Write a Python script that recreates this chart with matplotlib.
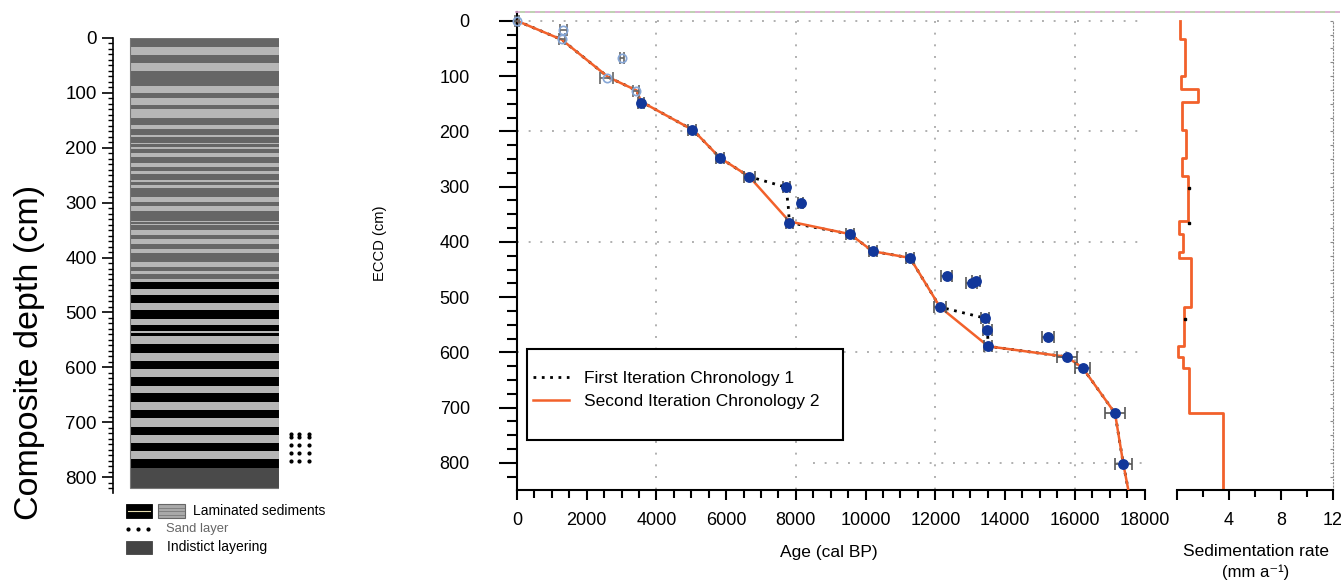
import numpy as np
import matplotlib
matplotlib.use('Agg')
import matplotlib.pyplot as plt
from matplotlib.patches import Rectangle
from matplotlib.lines import Line2D
from matplotlib.ticker import MultipleLocator, FixedLocator

plt.rcParams['font.family'] = ['Liberation Sans', 'DejaVu Sans']

# ---------------- data ----------------
# lithology (cm)
lam_upper_top, lam_upper_bottom = 0, 445          # dark-grey laminated
lam_lower_top, lam_lower_bottom = 445, 783        # black laminated
indist_top, indist_bottom = 783, 819              # indistinct layering
light_band_top = [16, 46, 87, 110, 130, 158, 177, 191, 198, 210, 228, 243, 259, 268,
                  289, 307, 333, 339, 350, 367, 385, 409, 424, 439,
                  458, 483, 512, 533, 543, 574, 603, 634, 664, 693, 723, 752]
light_band_bottom = [31, 61, 100, 122, 146, 166, 181, 193, 202, 216, 235, 248, 262, 274,
                     298, 316, 336, 341, 359, 375, 392, 417, 430, 444,
                     468, 495, 523, 537, 557, 588, 617, 647, 678, 708, 737, 767]
sand_depths = [721, 727, 742, 757, 770]

# dated samples: age (cal BP), depth (cm), age error
filled_age = [3557, 5020, 5823, 6664, 7717, 8138, 7812, 9552, 10203, 11274, 12326, 13043,
              13167, 12134, 13425, 13492, 13520, 15242, 15768, 16227, 17154, 17393]
filled_depth = [148, 198, 248, 282, 301, 329, 365, 386, 417, 429, 461, 475,
                470, 518, 538, 560, 589, 573, 608, 628, 710, 802]
filled_err = [100, 120, 110, 150, 100, 80, 110, 110, 110, 110, 150, 150,
              110, 170, 110, 120, 110, 170, 290, 215, 300, 250]
open_age = [0, 1330, 1300, 3003, 2573, 3414]
open_depth = [0, 17, 32, 67, 103, 127]
open_err = [60, 90, 90, 60, 180, 80]

# chronologies
chron2_age = [0, 1282, 2620, 3433, 3557, 5058, 5823, 6664, 7812, 9552, 10203, 11274,
              12134, 13520, 15768, 16227, 17154, 17393, 17536]
chron2_depth = [0, 34, 102, 126, 146, 198, 248, 282, 363, 386, 417, 429,
                518, 589, 608, 628, 710, 802, 849]
chron1_age = [0, 1282, 2620, 3433, 3557, 5058, 5823, 6664, 7717, 7780, 7812, 9552, 10203,
              11274, 12134, 13425, 13492, 13520, 15768, 16227, 17154, 17393, 17536]
chron1_depth = [0, 34, 102, 126, 146, 198, 248, 282, 301, 335, 365, 386, 417,
                429, 518, 538, 560, 589, 608, 628, 710, 802, 849]

# sedimentation rate (mm/a) between depth edges (cm)
sed_edges = [0, 33, 100, 124, 146, 197, 248, 281, 363, 386, 418, 429, 518, 589, 608, 628, 710, 850]
sed_rate = [0.25, 0.6, 0.28, 1.65, 0.35, 0.72, 0.38, 0.88, 0.12, 0.45, 0.12, 1.1,
            0.55, 0.1, 0.45, 0.95, 3.5]
sed1_rate = [0.9, 0.9, 0.58]
sed1_depth = [303, 365, 540]

# ---------------- figure ----------------
W, H = 1341, 580
fig = plt.figure(figsize=(W / 100, H / 100), dpi=100)


def fx(x):
    return x / W


def fy(y):
    return 1 - y / H


def axes_px(l, t, r, b):
    return fig.add_axes([fx(l), fy(b), (r - l) / W, (b - t) / H])


# ---------- lithology column ----------
ax0 = axes_px(112.7, 38, 279, 493)
ax0.set_xlim(0, 1)
ax0.set_ylim(829, 0)
cx0 = 0.104
ax0.add_patch(Rectangle((cx0, lam_upper_top), 1 - cx0, lam_upper_bottom - lam_upper_top,
                        facecolor='#666666', edgecolor='none'))
ax0.add_patch(Rectangle((cx0, lam_lower_top), 1 - cx0, lam_lower_bottom - lam_lower_top,
                        facecolor='#000000', edgecolor='none'))
ax0.add_patch(Rectangle((cx0, indist_top), 1 - cx0, indist_bottom - indist_top,
                        facecolor='#4a4a4a', edgecolor='none'))
for t, b in zip(light_band_top, light_band_bottom):
    ax0.add_patch(Rectangle((cx0, t), 1 - cx0, b - t, facecolor='#b6b6b6', edgecolor='none'))
ax0.add_patch(Rectangle((cx0, 0), 1 - cx0, indist_bottom, facecolor='none',
                        edgecolor='#777777', lw=0.8))
for d in sand_depths:
    ax0.plot([1.07, 1.12, 1.178], [d, d, d], 'o', color='black', ms=2.0, clip_on=False)
for s in ['top', 'right', 'bottom']:
    ax0.spines[s].set_visible(False)
ax0.spines['left'].set_linewidth(1.2)
ax0.set_xticks([])
ax0.yaxis.set_minor_locator(MultipleLocator(10))
ax0.set_yticks(range(0, 801, 100))
ax0.tick_params(axis='y', which='major', length=8, width=1.2, pad=3.5, labelsize=13.5)
ax0.tick_params(axis='y', which='minor', length=3.5, width=1.0)

fig.text(fx(30), fy(352), 'Composite depth (cm)', rotation=90, ha='center', va='center',
         fontsize=24.5)

# lithology legend
fig.add_artist(Rectangle((fx(126), fy(517.7)), 25.7 / W, 13.4 / H, transform=fig.transFigure,
                         facecolor='black', edgecolor='black', lw=0.6))
fig.add_artist(Line2D([fx(128), fx(150)], [fy(511), fy(511)], transform=fig.transFigure,
                      color='#e6dcae', lw=0.8))
fig.add_artist(Rectangle((fx(158.3), fy(517.7)), 26.7 / W, 13.4 / H, transform=fig.transFigure,
                         facecolor='#a9a9a9', edgecolor='#666666', lw=0.8))
for yy in [507.5, 511, 514.5]:
    fig.add_artist(Line2D([fx(159), fx(184.3)], [fy(yy), fy(yy)], transform=fig.transFigure,
                          color='#808080', lw=0.7))
fig.text(fx(193), fy(511), 'Laminated sediments', ha='left', va='center', fontsize=10)
for xx in [128.3, 137.7, 147.7]:
    fig.add_artist(Line2D([fx(xx)], [fy(529.3)], transform=fig.transFigure, marker='o',
                          ms=2.0, color='black', lw=0))
fig.text(fx(165.7), fy(529.3), 'Sand layer', ha='left', va='center', fontsize=9.4, color='#666666')
fig.add_artist(Rectangle((fx(126), fy(554)), 25.7 / W, 13.3 / H, transform=fig.transFigure,
                         facecolor='#444444', edgecolor='#444444', lw=0.6))
fig.text(fx(166.7), fy(547.3), 'Indistict layering', ha='left', va='center', fontsize=10)

# ---------- main age-depth plot ----------
ax = axes_px(517, 12, 1144.5, 490)
ax.set_xlim(0, 18000)
ax.set_ylim(849, -16)
grid_kw = dict(color='#b0b0b0', lw=1.4, linestyle=(0, (1, 5)), zorder=1)
ax.hlines([0, 200, 400, 600], 0, 18000, **grid_kw)
ax.hlines([800], 8500, 18000, **grid_kw)
ax.vlines([4000, 8000, 12000, 16000], 0, 849, **grid_kw)

ax.plot(chron1_age, chron1_depth, color='black', lw=2, linestyle=(0, (1, 2)), zorder=3)
ax.plot(chron2_age, chron2_depth, color='#f2612b', lw=1.8, zorder=4)
ax.errorbar(open_age, open_depth, xerr=open_err, fmt='o', ms=6, mfc='none', mec='#86a6d6',
            mew=1.2, ecolor='#666666', elinewidth=1.2, capsize=4.5, capthick=1.2, zorder=5,
            clip_on=False)
ax.errorbar(filled_age, filled_depth, xerr=filled_err, fmt='o', ms=6.8, mfc='#12379a',
            mec='#12379a', ecolor='#555555', elinewidth=1.2, capsize=4.5, capthick=1.2, zorder=6)

for s in ['top', 'right']:
    ax.spines[s].set_visible(False)
for s in ['left', 'bottom']:
    ax.spines[s].set_linewidth(1.5)
ax.set_yticks(range(0, 801, 100))
ax.yaxis.set_minor_locator(MultipleLocator(25))
ax.set_xticks(range(0, 18001, 2000))
ax.xaxis.set_minor_locator(MultipleLocator(500))
ax.tick_params(axis='y', which='major', length=13, width=1.5, pad=21, labelsize=13)
ax.tick_params(axis='y', which='minor', length=7, width=1.5)
ax.tick_params(axis='x', which='major', length=7, width=1.5, pad=9, labelsize=13)
ax.tick_params(axis='x', which='minor', length=6, width=1.5)

# legend box
ax.add_patch(Rectangle((fx(527), fy(440)), 316 / W, 91 / H, transform=fig.transFigure,
                       facecolor='white', edgecolor='black', lw=1.5, zorder=7, clip_on=False))
handles = [Line2D([], [], color='black', lw=2, linestyle=(0, (1, 2))),
           Line2D([], [], color='#f2612b', lw=1.8)]
leg = fig.legend(handles, ['First Iteration Chronology 1', 'Second Iteration Chronology 2'],
                 loc='upper left', bbox_to_anchor=(fx(533), fy(371)), frameon=False,
                 borderpad=0, borderaxespad=0, handlelength=2.1, handletextpad=0.85,
                 labelspacing=0.43, fontsize=12.5)
leg.set_zorder(10)

fig.text(fx(380), fy(243), 'ECCD (cm)', rotation=90, ha='center', va='center', fontsize=10.6)
fig.text(fx(829), fy(553), 'Age (cal BP)', ha='center', va='center', fontsize=12.5)

# ---------- sedimentation rate ----------
ax2 = axes_px(1177, 12, 1333, 490)
ax2.set_xlim(0, 12)
ax2.set_ylim(849, -16)
ys = np.repeat(sed_edges, 2)[1:-1]
xs = np.repeat(sed_rate, 2)
ax2.plot(xs, ys, color='#f2612b', lw=2)
ax2.plot(sed1_rate, sed1_depth, 's', color='black', ms=1.8)
for s in ['top', 'left']:
    ax2.spines[s].set_visible(False)
ax2.spines['bottom'].set_linewidth(1.5)
ax2.spines['bottom'].set_bounds(0, 12)
ax2.spines['right'].set_linestyle((0, (1, 2)))
ax2.spines['right'].set_color('#888888')
ax2.spines['right'].set_bounds(849, 0)
ax2.set_xticks([0, 4, 8, 12])
ax2.set_xticklabels(['', '4', '8', '12'])
ax2.xaxis.set_minor_locator(FixedLocator([2, 6, 10]))
ax2.tick_params(axis='x', which='major', length=7, width=1.5, pad=9, labelsize=13)
ax2.tick_params(axis='x', which='minor', length=5, width=1.5)
ax2.yaxis.set_ticks_position('right')
ax2.set_yticks(range(0, 826, 25))
ax2.tick_params(axis='y', which='major', length=2, width=0.8, color='#888888',
                direction='in', labelright=False)

fig.text(fx(1256), fy(551), 'Sedimentation rate', ha='center', va='center', fontsize=12.5)
fig.text(fx(1256), fy(572), '(mm a⁻¹)', ha='center', va='center', fontsize=12)

# top dashed multicolour rule
fig.add_artist(Line2D([fx(515), fx(1340)], [fy(12), fy(12)], transform=fig.transFigure,
                      color='#d7a3cc', lw=1.2, linestyle=(0, (3, 3))))
fig.add_artist(Line2D([fx(515), fx(1340)], [fy(12), fy(12)], transform=fig.transFigure,
                      color='#b3c9a4', lw=1.2, linestyle=(3, (3, 3))))

fig.savefig('out.png', dpi=100)
